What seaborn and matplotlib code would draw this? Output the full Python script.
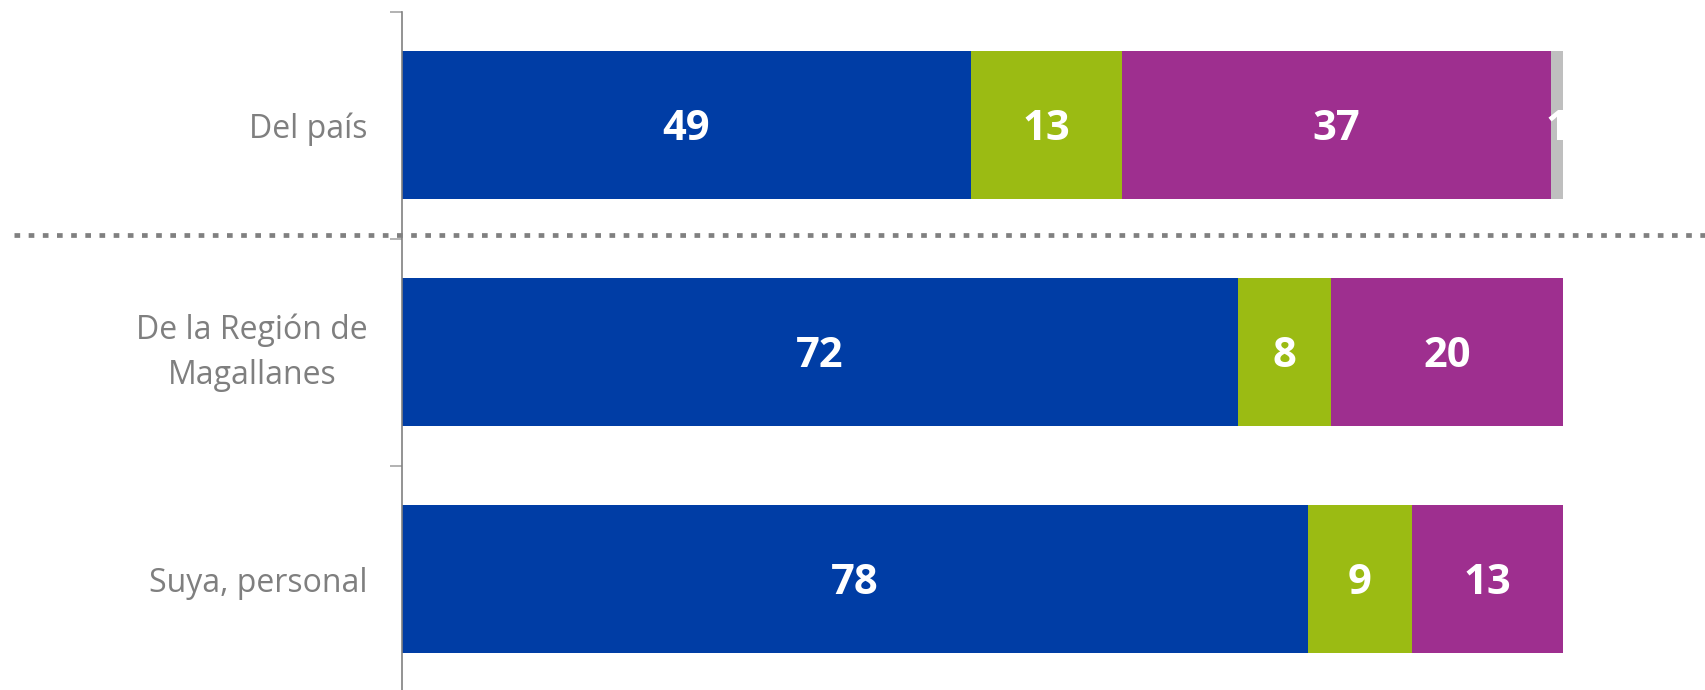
import numpy as np
import pandas as pd
import matplotlib
matplotlib.use('Agg')
import matplotlib.pyplot as plt
import matplotlib.transforms as mtransforms
import seaborn as sns

# DATA ------------
categories = ['Del país', 'De la Región de\nMagallanes', 'Suya, personal']
series_names = ['s1', 's2', 's3', 's4']
s1 = [49, 72, 78]
s2 = [13, 8, 9]
s3 = [37, 20, 13]
s4 = [1, 0, 0]
colors = ['#003DA5', '#9BBB13', '#9E2F8F', '#BFBFBF']

# SETUP -----------
sns.set_theme(style='white')
plt.rcParams['font.family'] = ['Open Sans', 'DejaVu Sans']

values = np.array([s1, s2, s3, s4])
cum = values.cumsum(axis=0)
df = pd.DataFrame({'cat': categories})

fig = plt.figure(figsize=(17.06, 6.9), dpi=100)
ax = fig.add_axes([402 / 1706, -2.5 / 690, (1563 - 402) / 1706, (692.5 - 11.5) / 690])

# stacked bars by overdrawing cumulative totals, largest first
for i in reversed(range(len(series_names))):
    df['v'] = cum[i]
    sns.barplot(data=df, x='v', y='cat', orient='h', color=colors[i],
                saturation=1, width=0.65, ax=ax, linewidth=0)

# value labels
for i in range(len(series_names)):
    for j in range(len(categories)):
        v = values[i, j]
        if v <= 0:
            continue
        ax.text(cum[i, j] - v / 2, j + 0.022, f'{v}', ha='center', va='center',
                color='white', fontsize=30, fontweight='bold')

ax.set_xlim(0, 100)
ax.set_ylim(2.5, -0.5)
ax.set_xlabel('')
ax.set_ylabel('')
ax.set_xticks([])
ax.set_yticks([-0.5, 0.5, 1.5, 2.5])
ax.set_yticklabels([])
ax.set_yticks([0, 1, 2], minor=True)
ax.set_yticklabels(categories, minor=True, fontsize=23, color='#7F7F7F',
                   linespacing=1.45, multialignment='center')
ax.tick_params(axis='y', which='major', length=9, width=1.2, color='#A6A6A6', left=True, direction='out')
ax.tick_params(axis='y', which='minor', length=0, pad=24.5)

# nudge the two-line label up a little
for lbl in ax.get_yticklabels(minor=True):
    if '\n' in lbl.get_text():
        lbl.set_transform(lbl.get_transform() + mtransforms.ScaledTranslation(0, 0.09, fig.dpi_scale_trans))

for side in ['top', 'right', 'bottom']:
    ax.spines[side].set_visible(False)
ax.spines['left'].set_color('#808080')
ax.spines['left'].set_linewidth(1.2)

# dotted separator
ax.axhline(0.485, xmin=(14 - 402) / 1161, xmax=(1706 - 402) / 1161, clip_on=False,
           color='#808080', linewidth=3.4, linestyle=(0, (1.2, 1.8)), dash_capstyle='butt', zorder=5)

fig.savefig('out.png', dpi=100)
